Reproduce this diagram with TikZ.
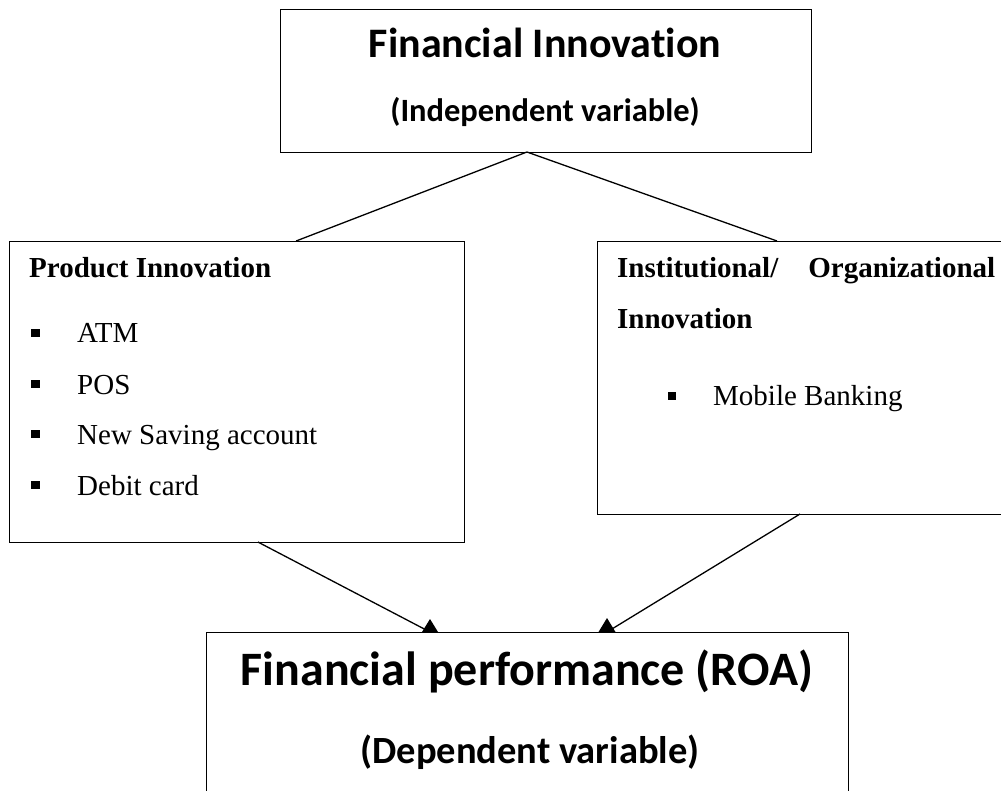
\documentclass[tikz,border=0pt]{standalone}
\usepackage{fontspec}
\setmainfont{Liberation Serif}
\newfontfamily\headfont[Ligatures=NoCommon]{Carlito}
\usetikzlibrary{calc}
\begin{document}
\begin{tikzpicture}[x=1pt,y=-1pt,
  box/.style={draw=black, line width=0.9pt, fill=white, inner sep=0pt, outer sep=0pt, anchor=north west},
  link/.style={line width=1.3pt},
  tip/.style={fill=black},
  sq/.style={fill=black, draw=none, inner sep=0pt, minimum size=8.5pt},
  body/.style={anchor=base west, inner sep=0pt, font=\fontsize{29}{34}\selectfont},
  bighead/.style={anchor=base, inner sep=0pt, font=\headfont\bfseries\fontsize{#1}{#1}\selectfont}
]
\useasboundingbox (0,0) rectangle (1001,791);
\clip (0,0) rectangle (1001,791);

% boxes
\node[box, minimum width=531pt, minimum height=143pt] (top) at (280,9) {};
\node[box, minimum width=455pt, minimum height=301pt] (lbox) at (9,241) {};
\node[box, minimum width=460pt, minimum height=273pt] (rbox) at (597,241) {};
\node[box, minimum width=642pt, minimum height=200pt] (bot) at (206,632) {};

% independent variable
\node[bighead=42] (topttl) at (545,58) {Financial Innovation};
\node[bighead=32.5] (topsub) at (545,122) {(Independent variable)};

% product innovation
\node[body, font=\bfseries\fontsize{29}{34}\selectfont] (lhead) at (29,278) {Product Innovation};
\node[sq] (lb1) at (35.5,333) {};
\node[sq] (lb2) at (35.5,384) {};
\node[sq] (lb3) at (35.5,434) {};
\node[sq] (lb4) at (35.5,485) {};
\node[body] (li1) at (77,343) {ATM};
\node[body] (li2) at (77,394) {POS};
\node[body] (li3) at (77,444) {New Saving account};
\node[body] (li4) at (77,495) {Debit card};

% institutional / organizational innovation
\node[body, font=\bfseries\fontsize{29}{34}\selectfont] (rhead1) at (617,278)
  {\makebox[378pt][s]{Institutional/ Organizational}};
\node[body, font=\bfseries\fontsize{29}{34}\selectfont] (rhead2) at (617,329) {Innovation};
\node[sq] (rb1) at (672,396) {};
\node[body] (ri1) at (713,405) {Mobile Banking};

% dependent variable
\node[bighead=48] (botttl) at (527,685) {Financial performance (ROA)};
\node[bighead=38.5] (botsub) at (530,763) {(Dependent variable)};

% connectors
\coordinate (apex) at ($(top.south west)!0.465!(top.south east)$);
\coordinate (lin) at ($(lbox.north west)!0.631!(lbox.north east)$);
\coordinate (rin) at ([xshift=180pt]rbox.north west);
\coordinate (lout) at ($(lbox.south west)!0.547!(lbox.south east)$);
\coordinate (rout) at ([xshift=203pt]rbox.south west);
\coordinate (tipl) at ([xshift=224pt]bot.north west);
\coordinate (tipr) at ([xshift=401pt]bot.north west);

\draw[link] (apex) -- (lin);
\draw[link] (apex) -- (rin);
\draw[link] (lout) -- (tipl);
\draw[link] (rout) -- (tipr);
\fill[tip] (tipl) ++(-8,0) -- ++(8,-13) -- ++(8,13) -- cycle;
\fill[tip] (tipr) ++(-8.5,0) -- ++(8.5,-14) -- ++(8.5,14) -- cycle;
\end{tikzpicture}
\end{document}
